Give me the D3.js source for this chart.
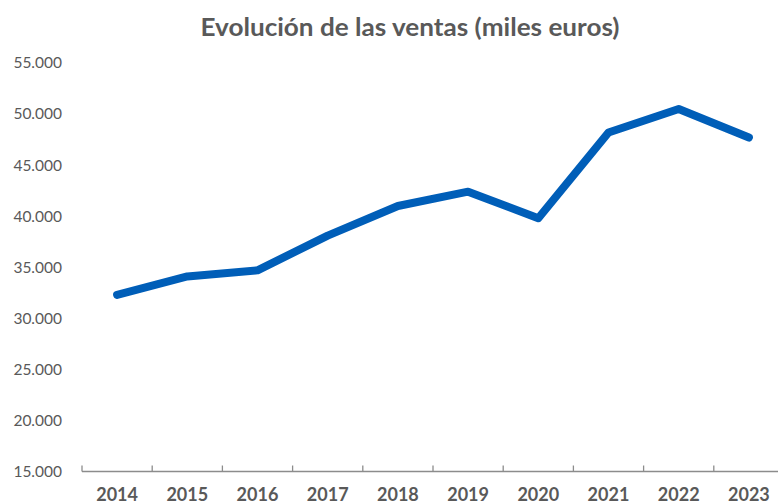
<!DOCTYPE html>
<html>
<head>
<meta charset="utf-8">
<script src="https://cdn.jsdelivr.net/npm/d3@7"></script>
<style>
  body { margin: 0; background: #fff; }
  text { font-family: Lato, "Open Sans", sans-serif; fill: #595959; }
</style>
</head>
<body>
<div id="chart"></div>
<script>
const years = ["2014", "2015", "2016", "2017", "2018", "2019", "2020", "2021", "2022", "2023"];
const ventas = [32300, 34100, 34700, 38100, 41000, 42400, 39800, 48200, 50500, 47700];
const yTicks = [15000, 20000, 25000, 30000, 35000, 40000, 45000, 50000, 55000];

const width = 778, height = 504;
const svg = d3.select("#chart").append("svg")
    .attr("width", width)
    .attr("height", height);

let x = d3.scaleBand().domain(years).range([82, 784]);
let y = d3.scaleLinear().domain([15000, 55000]).range([471.5, 63]);

const fmt = d => d3.format(",")(d).replace(/,/g, ".");

svg.append("text")
    .attr("x", 410)
    .attr("y", 36)
    .attr("text-anchor", "middle")
    .attr("textLength", 419)
    .attr("lengthAdjust", "spacingAndGlyphs")
    .style("font-size", "24px")
    .style("font-weight", "bold")
    .text("Evolución de las ventas (miles euros)");

// y labels (no axis line)
svg.selectAll(".ylab")
    .data(yTicks)
    .enter().append("text")
    .attr("class", "ylab")
    .attr("x", 62)
    .attr("y", d => y(d))
    .attr("dy", "0.35em")
    .attr("text-anchor", "end")
    .style("font-size", "15.5px")
    .text(fmt);

// x axis line + ticks between categories
const xa = svg.append("g");
xa.append("line")
    .attr("x1", 82).attr("x2", 784)
    .attr("y1", 471.5).attr("y2", 471.5)
    .attr("stroke", "#8c8c8c").attr("stroke-width", 1.3);
xa.selectAll(".tk")
    .data(years)
    .enter().append("line")
    .attr("x1", d => x(d)).attr("x2", d => x(d))
    .attr("y1", 465.5).attr("y2", 471.5)
    .attr("stroke", "#8c8c8c").attr("stroke-width", 1.3);
xa.selectAll(".xlab")
    .data(years)
    .enter().append("text")
    .attr("x", d => x(d) + x.bandwidth() / 2)
    .attr("y", 501)
    .attr("text-anchor", "middle")
    .style("font-size", "18px")
    .style("font-weight", "bold")
    .text(d => d);

const line = d3.line()
    .x((d, i) => x(years[i]) + x.bandwidth() / 2)
    .y(d => y(d));

svg.append("path")
    .datum(ventas)
    .attr("d", line)
    .attr("fill", "none")
    .attr("stroke", "#005EB8")
    .attr("stroke-width", 8)
    .attr("stroke-linecap", "round")
    .attr("stroke-linejoin", "round");
</script>
</body>
</html>
